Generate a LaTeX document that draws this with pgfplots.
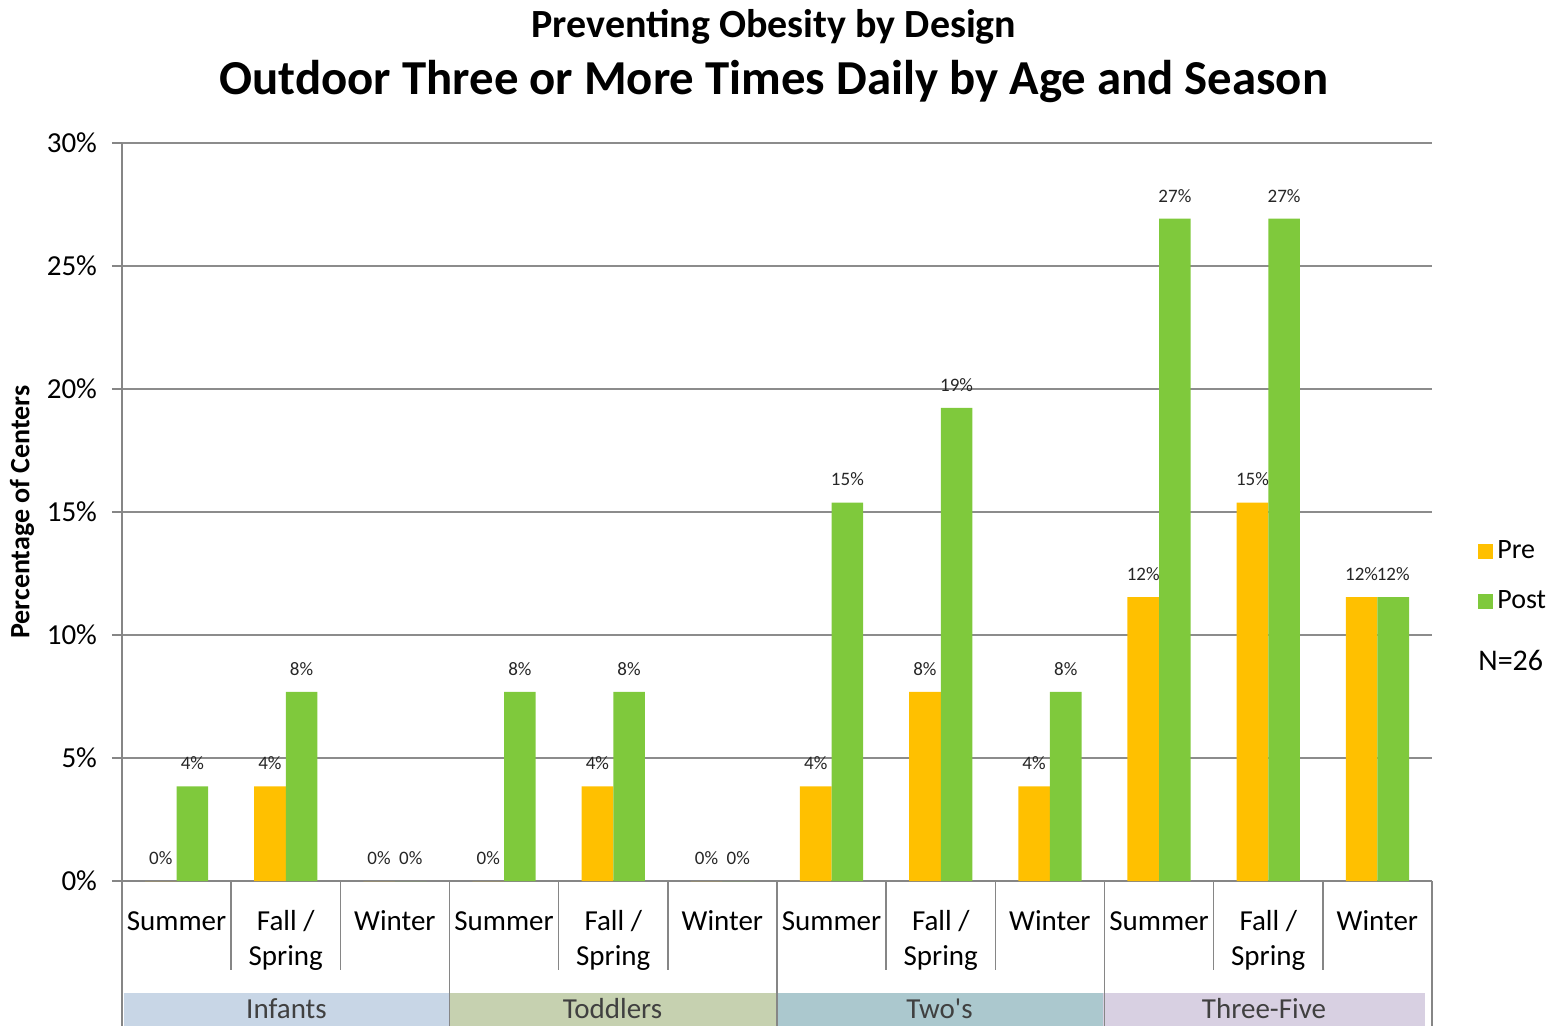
\documentclass[border=0pt]{standalone}
\usepackage{fontspec}
\setmainfont{Carlito}
\usepackage{pgfplots}
\pgfplotsset{compat=1.18}
\definecolor{pre}{HTML}{FFC000}
\definecolor{post}{HTML}{7FC93C}
\definecolor{gridc}{HTML}{8C8C8C}
\definecolor{sepc}{HTML}{868686}
\definecolor{bandA}{HTML}{C8D6E6}
\definecolor{bandB}{HTML}{C6D1B0}
\definecolor{bandC}{HTML}{ABC8CE}
\definecolor{bandD}{HTML}{D8D0E2}
\definecolor{grptxt}{HTML}{404040}
\begin{document}
\begin{tikzpicture}[x=0.5pt,y=-0.5pt]
\useasboundingbox (0,0) rectangle (1555,1026);
% group bands
\fill[bandA] (124,993) rectangle (449,1026);
\fill[bandB] (449,993) rectangle (776,1026);
\fill[bandC] (776,993) rectangle (1103,1026);
\fill[bandD] (1103,993) rectangle (1425,1026);
\begin{axis}[
  at={(61pt,-440.5pt)}, anchor=south west,
  scale only axis, width=655pt, height=369pt,
  xmin=-0.5, xmax=11.5, ymin=0, ymax=30,
  axis lines*=left,
  axis line style={sepc, line width=0.8pt},
  xtick={0,...,11},
  xticklabels={\strut Summer,{\strut Fall /\\Spring},\strut Winter,\strut Summer,{\strut Fall /\\Spring},\strut Winter,\strut Summer,{\strut Fall /\\Spring},\strut Winter,\strut Summer,{\strut Fall /\\Spring},\strut Winter},
  xticklabel style={align=center, anchor=north, font=\fontsize{14.5}{17.5}\selectfont, yshift=-4pt},
  x tick style={draw=none},
  ytick={0,5,...,30},
  yticklabel={\pgfmathprintnumber{\tick}\%},
  yticklabel style={font=\fontsize{14.5}{17}\selectfont, xshift=-4pt},
  y tick style={sepc, line width=0.8pt},
  major tick length=5pt, tick align=outside,
  ymajorgrids, grid style={gridc, line width=0.8pt},
  /pgf/number format/assume math mode=true,
  ybar, bar width=0.29,
  nodes near coords={\pgfmathprintnumber[fixed,precision=0]{\pgfplotspointmeta}\%},
  nodes near coords style={font=\fontsize{9.5}{10}\selectfont, color=black!85, inner sep=2pt, yshift=6pt},
  legend style={at={(1.0305,0.413)}, anchor=west, draw=none, fill=none,
    font=\fontsize{14}{16}\selectfont, row sep=10.5pt},
  legend cell align=left,
  legend image code/.code={\fill[#1] (0pt,-3.75pt) rectangle (7.5pt,3.75pt);},
]
\addplot[fill=pre, draw=none, bar shift=-0.145] coordinates {
 (0,0) (1,3.846) (2,0) (3,0) (4,3.846) (5,0)
 (6,3.846) (7,7.692) (8,3.846) (9,11.538) (10,15.385) (11,11.538)};
\addplot[fill=post, draw=none, bar shift=0.145] coordinates {
 (0,3.846) (1,7.692) (2,0) (3,7.692) (4,7.692) (5,0)
 (6,15.385) (7,19.231) (8,7.692) (9,26.923) (10,26.923) (11,11.538)};
\legend{Pre,Post}
\end{axis}
% separators
\foreach \k in {1,2,4,5,7,8,10,11} \draw[sepc, line width=0.8pt] ({122+\k*109.1667},881) -- ({122+\k*109.1667},970);
\foreach \k in {0,3,6,9,12} \draw[sepc, line width=0.8pt] ({122+\k*109.1667},881) -- ({122+\k*109.1667},1026);
% group labels
\node[font=\fontsize{14.5}{17}\selectfont, text=grptxt] at (286.5,1009) {Infants};
\node[font=\fontsize{14.5}{17}\selectfont, text=grptxt] at (612.5,1009) {Toddlers};
\node[font=\fontsize{14.5}{17}\selectfont, text=grptxt] at (939.5,1009) {Two\textquotesingle s};
\node[font=\fontsize{14.5}{17}\selectfont, text=grptxt] at (1264,1009) {Three-Five};
% N
\node[anchor=west, font=\fontsize{15}{18}\selectfont, inner sep=0pt] at (1478,660) {N=26};
% y label
\node[rotate=90, font=\bfseries\fontsize{14}{16}\selectfont] at (22,512) {Percentage of Centers};
% titles
\node[font=\bfseries\fontsize{20}{23}\selectfont] at (774,27) {Preventing Obesity by Design};
\node[font=\bfseries\fontsize{24.4}{28}\selectfont] at (774,82) {Outdoor Three or More Times Daily by Age and Season};
\end{tikzpicture}
\end{document}
